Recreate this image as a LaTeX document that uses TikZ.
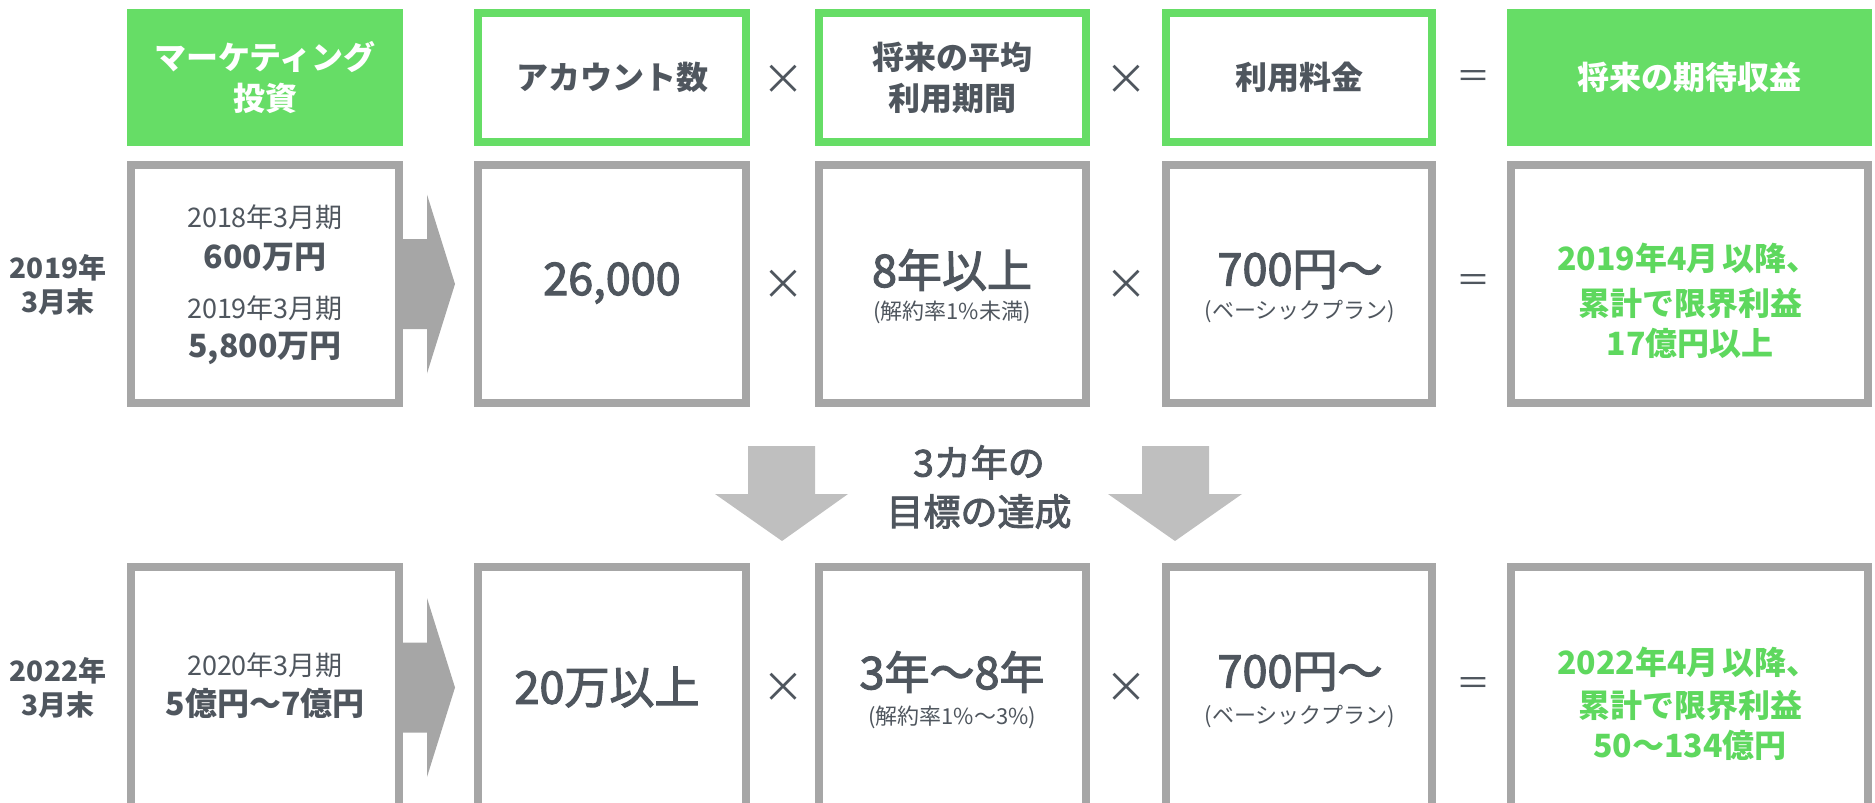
\documentclass[tikz,border=0pt]{standalone}
\usepackage{fontspec}
\setmainfont{Noto Sans CJK JP}
\usetikzlibrary{calc}
\definecolor{lgreen}{HTML}{66DD66}
\definecolor{tgreen}{HTML}{5ED85E}
\definecolor{bgray}{HTML}{A6A6A6}
\definecolor{agray}{HTML}{BFBFBF}
\definecolor{tdark}{HTML}{4F565E}
\newcommand\medfont{\addfontfeatures{FakeBold=2.5}}
\newcommand\hdfont{\fontsize{16pt}{20.5pt}\selectfont\bfseries}
\newcommand\mybox[7]{\node[#6, minimum width={(#4-#2-8)*0.5pt}, minimum height={(#5-#3-8)*0.5pt}] (#1) at ({(#2+#4)/2},{(#3+#5)/2}) {#7};}
\begin{document}
\begin{tikzpicture}[x=0.5pt,y=-0.5pt,
  gbox/.style={draw=bgray,line width=4pt,fill=white,inner sep=0pt,outer sep=0pt},
  obox/.style={draw=lgreen,line width=4pt,fill=white,inner sep=0pt,outer sep=0pt,text=tdark,font=\hdfont,align=center},
  fbox/.style={draw=lgreen,line width=4pt,fill=lgreen,inner sep=0pt,outer sep=0pt,text=white,font=\hdfont,align=center},
  txt/.style={inner sep=0pt,outer sep=0pt,text=tdark,anchor=center},
  small/.style={txt,font=\fontsize{13.5pt}{16pt}\selectfont},
  midb/.style={txt,font=\fontsize{16pt}{19pt}\selectfont\bfseries},
  big/.style={txt,font=\fontsize{22.5pt}{26pt}\selectfont\medfont},
  note/.style={txt,font=\fontsize{11pt}{13pt}\selectfont},
  res/.style={txt,text=tgreen,font=\fontsize{16pt}{20pt}\selectfont\bfseries},
  lbl/.style={txt,align=center,font=\fontsize{14pt}{17pt}\selectfont\bfseries},
  op/.style={txt,font=\fontsize{21pt}{21pt}\selectfont},
  eq/.style={txt,font=\fontsize{17pt}{17pt}\selectfont},
  rarrow/.style={fill=bgray},
  darrow/.style={fill=agray}]
\useasboundingbox (0,0) rectangle (1875,803);
\clip (0,0) rectangle (1875,803);

% header row
\mybox{hmkt}{127}{9}{403}{146}{fbox}{マーケティング\\投資}
\mybox{hacc}{474}{9}{750}{146}{obox}{アカウント数}
\mybox{hper}{815}{9}{1090}{146}{obox}{将来の平均\\利用期間}
\mybox{hfee}{1162}{9}{1436}{146}{obox}{利用料金}
\mybox{hrev}{1507}{9}{1872}{146}{fbox}{将来の期待収益}
\node[op] (hx1) at (783,80) {×};
\node[op] (hx2) at (1126,80) {×};
\node[eq] (heq) at (1473,80) {＝};

% row 2019
\mybox{inv1}{127}{161}{403}{407}{gbox}{}
\mybox{acc1}{474}{161}{750}{407}{gbox}{}
\mybox{per1}{815}{161}{1090}{407}{gbox}{}
\mybox{fee1}{1162}{161}{1436}{407}{gbox}{}
\mybox{rev1}{1507}{161}{1872}{407}{gbox}{}
\node[lbl] (y1) at (58,285) {2019年\\3月末};
\node[small] (i1a) at (265,217) {2018年3月期};
\node[midb] (i1b) at (265,257) {600万円};
\node[small] (i1c) at (265,308) {2019年3月期};
\node[midb] (i1d) at (265,348) {5,800万円};
\node[big] (a1) at (612,283) {26,000};
\node[big] (p1) at (952,270) {8年以上};
\node[note] (p1n) at (952,312) {(解約率1\%未満)};
\node[big] (f1) at (1300,270) {700円～};
\node[note] (f1n) at (1300,312) {(ベーシックプラン)};
\node[res] (r1a) at (1688,258) {2019年4月\hspace{0.12em}以降、};
\node[res] (r1b) at (1690,303) {累計で限界利益};
\node[res] (r1c) at (1690,343) {17億円以上};
\node[op] (x11) at (783,285) {×};
\node[op] (x12) at (1126,285) {×};
\node[eq] (eq1) at (1473,284) {＝};
\fill[rarrow] ($(inv1.east)+(4,-45)$) -- ++(24,0) -- ++(0,-44.5) -- ++(28,89.5) -- ++(-28,89.5) -- ++(0,-44.5) -- ++(-24,0) -- cycle;

% middle
\fill[darrow] (748,446) -- (815,446) -- (815,494) -- (848,494) -- (782,541) -- (715,494) -- (748,494) -- cycle;
\fill[darrow] (1142,446) -- (1209,446) -- (1209,494) -- (1242,494) -- (1175,541) -- (1108,494) -- (1142,494) -- cycle;
\node[txt,align=center,font=\fontsize{18.5pt}{24.5pt}\selectfont\medfont] (goal) at (979,487) {3カ年の\\目標の達成};

% row 2022
\mybox{inv2}{127}{563}{403}{812}{gbox}{}
\mybox{acc2}{474}{563}{750}{812}{gbox}{}
\mybox{per2}{815}{563}{1090}{812}{gbox}{}
\mybox{fee2}{1162}{563}{1436}{812}{gbox}{}
\mybox{rev2}{1507}{563}{1872}{812}{gbox}{}
\node[lbl] (y2) at (58,688) {2022年\\3月末};
\node[small] (i2a) at (265,665) {2020年3月期};
\node[midb] (i2b) at (265,703) {5億円～7億円};
\node[big] (a2) at (607,687) {20万以上};
\node[big] (p2) at (952,672) {3年～8年};
\node[note] (p2n) at (952,717) {(解約率1\%～3\%)};
\node[big] (f2) at (1300,672) {700円～};
\node[note] (f2n) at (1300,717) {(ベーシックプラン)};
\node[res] (r2a) at (1688,662) {2022年4月\hspace{0.12em}以降、};
\node[res] (r2b) at (1690,705) {累計で限界利益};
\node[res] (r2c) at (1690,745) {50～134億円};
\node[op] (x21) at (783,688) {×};
\node[op] (x22) at (1126,688) {×};
\node[eq] (eq2) at (1473,686) {＝};
\fill[rarrow] ($(inv2.east)+(4,-45)$) -- ++(24,0) -- ++(0,-44.5) -- ++(28,89.5) -- ++(-28,89.5) -- ++(0,-44.5) -- ++(-24,0) -- cycle;
\end{tikzpicture}
\end{document}
